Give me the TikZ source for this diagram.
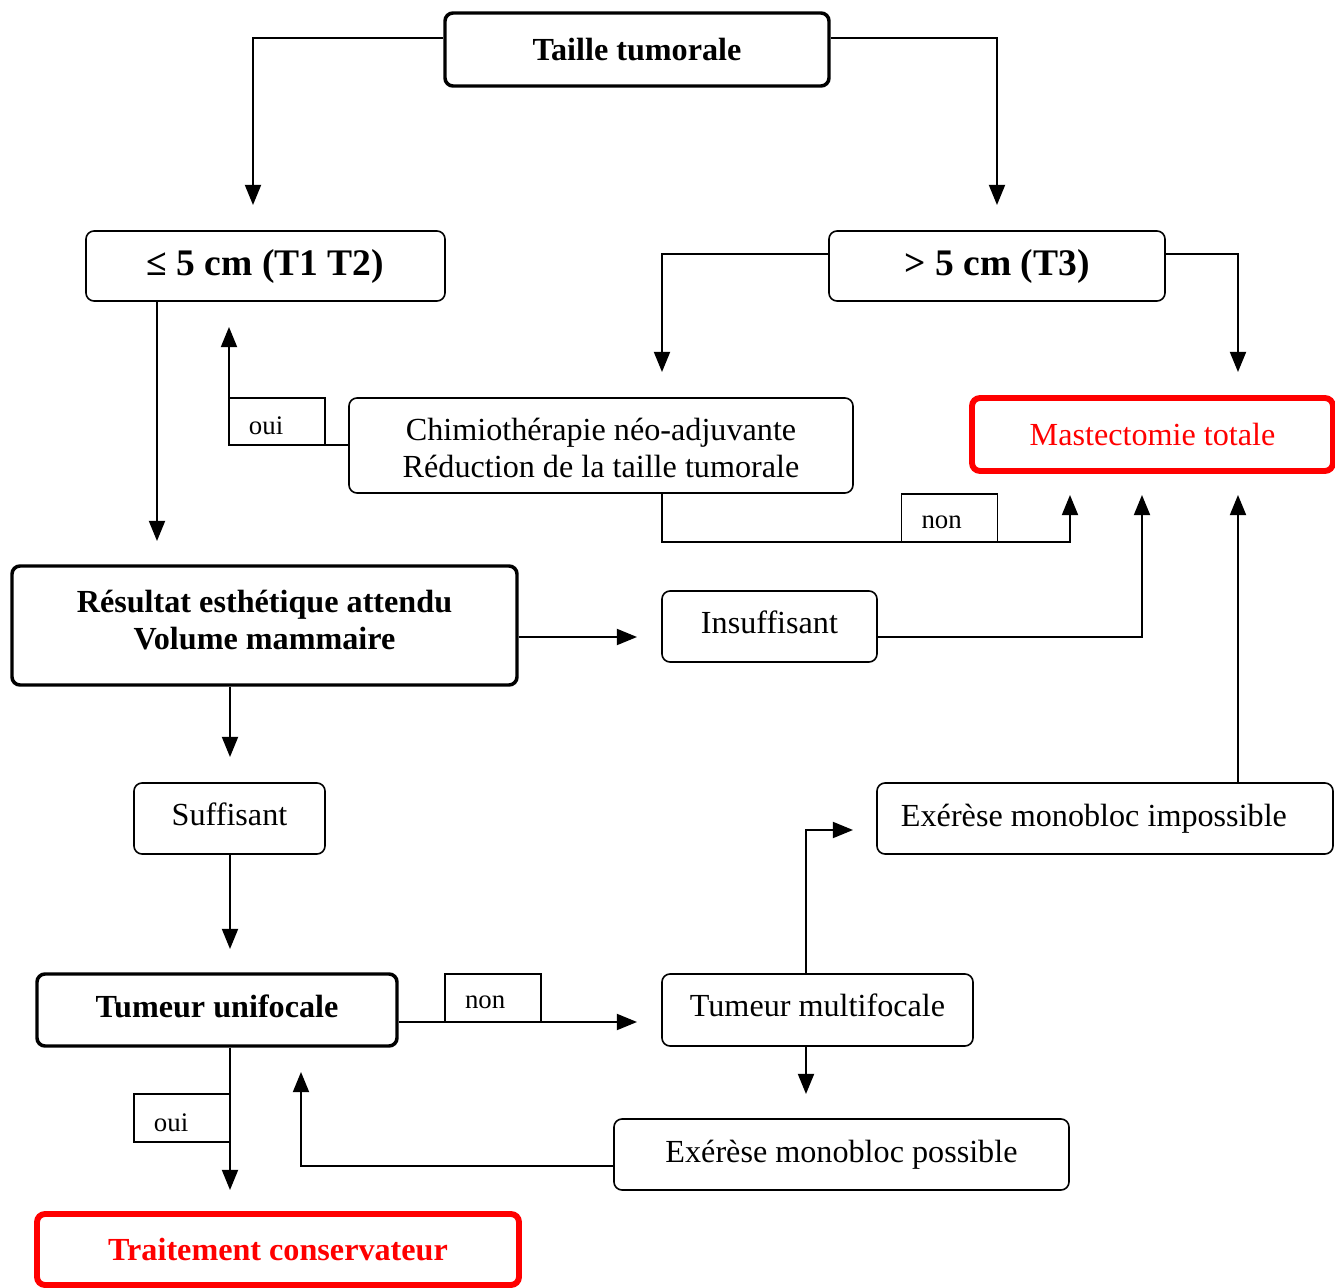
\documentclass[tikz,border=0pt]{standalone}
\usepackage{fontspec}
\setmainfont{Liberation Serif}
\usetikzlibrary{arrows.meta}
\def\pxunit{0.373pt}
\tikzset{
  sz/.style 2 args={minimum width=#1*\pxunit, minimum height=#2*\pxunit},
  base/.style={draw, rounded corners=3pt, line width=0.6pt, align=center, inner sep=0pt,
    font=\fontsize{12}{13.8}\selectfont},
  thickbox/.style={base, line width=1.3pt, font=\fontsize{12}{13.8}\selectfont\bfseries},
  bigbox/.style={base, font=\fontsize{14}{16}\selectfont\bfseries},
  redbox/.style={base, draw=red, text=red, line width=2.2pt},
  tag/.style={draw, line width=0.6pt, inner ysep=0pt, inner xsep=20*\pxunit,
    text width=56*\pxunit, align=left, font=\fontsize{10}{12}\selectfont},
  arr/.style={line width=0.6pt, -{Triangle[length=7.5pt,width=6pt]}},
}
\begin{document}
\begin{tikzpicture}[x=0.373pt, y=-0.373pt]
\useasboundingbox (0,0) rectangle (1335,1288);

% boxes
\node[thickbox, sz={384}{73}] (taille) at (637,49.5) {Taille tumorale};
\node[bigbox, sz={359}{70}] (le5) at (265.5,266) {≤ 5 cm (T1 T2)};
\node[bigbox, sz={336}{70}] (gt5) at (997,266) {> 5 cm (T3)};
\node[redbox, sz={361}{73}] (mast) at (1152.5,434.5) {Mastectomie totale};
\node[base, sz={504}{95}, text height=24.2pt] (chimio) at (601,445.5) {Chimiothérapie néo-adjuvante\\Réduction de la taille tumorale};
\node[tag, minimum height=47*\pxunit, text height=10pt] (oui1) at (277,421.5) {oui};
\node[tag, minimum height=48*\pxunit, text height=8pt] (non1) at (949.5,518) {non};
\node[thickbox, sz={505}{119}, text depth=4.4pt] (result) at (264.5,625.5) {Résultat esthétique attendu\\Volume mammaire};
\node[base, sz={215}{71}, text depth=3.6pt] (insuf) at (769.5,626.5) {Insuffisant};
\node[base, sz={191}{71}, text depth=3.6pt] (suff) at (229.5,818.5) {Suffisant};
\node[base, inner xsep=24*\pxunit, minimum height=71*\pxunit] (impos) at (1105,818.5) {\makebox[152.2pt][l]{Exérèse monobloc impossible}};
\node[thickbox, sz={360}{72}, text depth=3.2pt] (unif) at (217,1010) {Tumeur unifocale};
\node[tag, minimum height=48*\pxunit, text height=8pt] (non2) at (493,998) {non};
\node[base, sz={311}{72}, text depth=3.6pt] (multi) at (817.5,1010) {Tumeur multifocale};
\node[base, sz={455}{71}] (poss) at (841.5,1154.5) {Exérèse monobloc possible};
\node[tag, minimum height=48*\pxunit, text height=10pt] (oui2) at (182,1118) {oui};
\node[redbox, font=\fontsize{12}{13.8}\selectfont\bfseries, sz={482}{71}] (trait) at (278,1249.5) {Traitement conservateur};

% free arrow ends
\coordinate (tA) at (253,205);
\coordinate (tB) at (997,205);
\coordinate (tC) at (662,372);
\coordinate (tD) at (1238,372);
\coordinate (tE) at (229,327);
\coordinate (bF) at (662,542);
\coordinate (tF) at (1070,495);
\coordinate (tG) at (157,541);
\coordinate (tH) at (637,637);
\coordinate (tI) at (1142,495);
\coordinate (tJ) at (230,757);
\coordinate (tK) at (230,949);
\coordinate (tL) at (637,1022);
\coordinate (tM) at (853,830);
\coordinate (tN) at (1238,495);
\coordinate (tO) at (806,1094);
\coordinate (tP) at (301,1072);
\coordinate (tQ) at (230,1190);

% connectors
\draw[arr] (taille.west |- 0,38) -| (tA);
\draw[arr] (taille.east |- 0,38) -| (tB);
\draw[arr] (gt5.west |- 0,254) -| (tC);
\draw[arr] (gt5.east |- 0,254) -| (tD);
\draw[arr] (chimio.west |- 0,445) -| (tE);
\draw[arr] (chimio.south -| bF) -- (bF) -| (tF);
\draw[arr] (le5.south -| tG) -- (tG);
\draw[arr] (result.east |- tH) -- (tH);
\draw[arr] (insuf.east |- 0,637) -| (tI);
\draw[arr] (result.south -| tJ) -- (tJ);
\draw[arr] (suff.south -| tK) -- (tK);
\draw[arr] (unif.east |- tL) -- (tL);
\draw[arr] (multi.north -| tO) |- (tM);
\draw[arr] (impos.north -| tN) -- (tN);
\draw[arr] (multi.south -| tO) -- (tO);
\draw[arr] (poss.west |- 0,1166) -| (tP);
\draw[arr] (unif.south -| tQ) -- (tQ);
\end{tikzpicture}
\end{document}
